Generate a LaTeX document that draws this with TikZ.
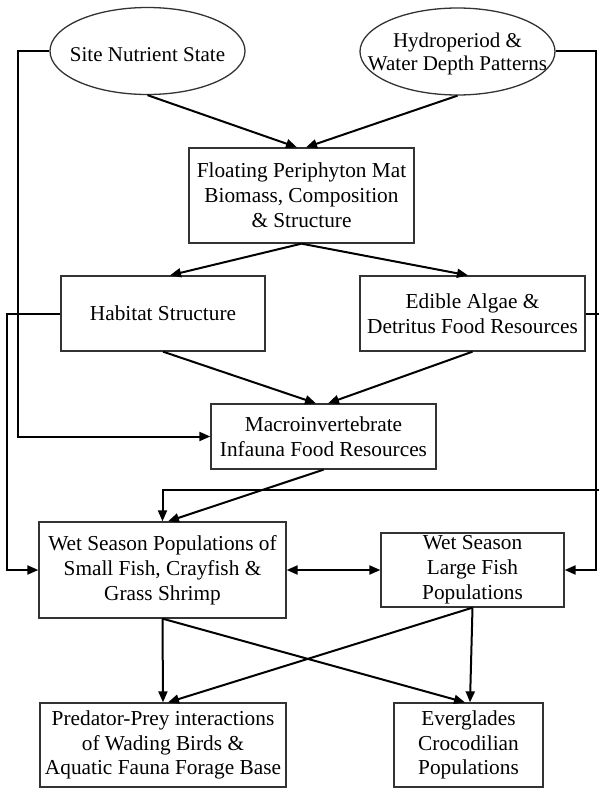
\documentclass[tikz,border=0pt]{standalone}
\usepackage{fontspec}
\setmainfont{Liberation Serif}
\usetikzlibrary{arrows.meta,shapes.geometric,calc}
\begin{document}
\begin{tikzpicture}[x=1pt,y=-1pt,
  box/.style={draw=black!80, line width=1.3pt, inner sep=0pt, align=center, font=\fontsize{21.3}{24.8}\selectfont},
  oval/.style={draw=black!80, line width=1.3pt, ellipse, inner sep=0pt, minimum width=195pt, minimum height=87pt},
  otext/.style={align=center, inner sep=0pt, font=\fontsize{21}{23.5}\selectfont},
  arr/.style={line width=2pt, -{Triangle[length=11pt,width=9pt]}},
  biarr/.style={line width=2pt, {Triangle[length=11pt,width=9pt]}-{Triangle[length=11pt,width=9pt]}},
  ln/.style={line width=2pt}]
\useasboundingbox (0,0) rectangle (598,789);

% ellipses
\node[oval] (site) at (147.5,51) {};
\node[otext] (sitet) at (147.5,55) {Site Nutrient State};
\node[oval] (hyd) at (457.5,51.5) {};
\node[otext] (hydt) at (457.5,54) {Hydroperiod \&\\Water Depth Patterns};

% boxes
\node[box, minimum width=225pt, minimum height=95pt] (flo) at (301.5,195.5) {Floating Periphyton Mat\\Biomass, Composition\\\& Structure};
\node[box, minimum width=204pt, minimum height=75pt] (hab) at (163,313.5) {Habitat Structure};
\node[box, minimum width=225pt, minimum height=75pt] (edi) at (472.5,313.5) {Edible Algae \&\\Detritus Food Resources};
\node[box, minimum width=225pt, minimum height=65pt] (mac) at (323.5,436.5) {Macroinvertebrate\\Infauna Food Resources};
\node[box, minimum width=247pt, minimum height=96pt] (sma) at (162.5,570) {Wet Season Populations of\\Small Fish, Crayfish \&\\Grass Shrimp};
\node[box, minimum width=183pt, minimum height=74pt] (lar) at (472.5,570) {Wet Season\\Large Fish\\Populations};
\node[box, minimum width=246pt, minimum height=84pt] (pre) at (163,745) {Predator-Prey interactions\\of Wading Birds \&\\Aquatic Fauna Forage Base};
\node[box, minimum width=149pt, minimum height=84pt] (eve) at (468.5,745) {Everglades\\Crocodilian\\Populations};

% routing coordinates
\coordinate (l1) at (18,0);
\coordinate (l2) at (7,0);
\coordinate (r1) at (596,0);
\coordinate (r2) at (599.5,0);
\coordinate (h1) at (0,490);

% ellipses to floating mat
\draw[arr] (site.south) -- ($(flo.north)+(-4.5,0)$);
\draw[arr] (hyd.south) -- ($(flo.north)+(4.5,0)$);
% side routes from ellipses
\draw[arr] (site.west) -| (l1 |- mac.west) -- (mac.west);
\draw[arr] (hyd.east) -| (r1 |- lar.east) -- (lar.east);
% floating mat to second row
\draw[arr] (flo.south) -- ($(hab.north)+(7,0)$);
\draw[arr] (flo.south) -- ($(edi.north)+(-4.5,0)$);
% second row to macroinvertebrates
\draw[arr] (hab.south) -- ($(mac.north)+(-7.5,0)$);
\draw[arr] (edi.south) -- ($(mac.north)+(4.5,0)$);
% side routes from second row
\draw[arr] (hab.west) -| (l2 |- sma.west) -- (sma.west);
\draw[arr] (edi.east) -| (r2 |- h1) -| (sma.north);
% macro to small fish
\draw[arr] (mac.south) -- ($(sma.north)+(5.5,0)$);
% small <-> large fish
\draw[biarr] (sma.east) -- (lar.west);
% to bottom row
\draw[arr] (sma.south) -- (pre.north);
\draw[arr] (sma.south) -- ($(eve.north)+(-3.5,0)$);
\draw[arr] (lar.south) -- ($(pre.north)+(5,0)$);
\draw[arr] (lar.south) -- ($(eve.north)+(1.5,0)$);
\end{tikzpicture}
\end{document}
